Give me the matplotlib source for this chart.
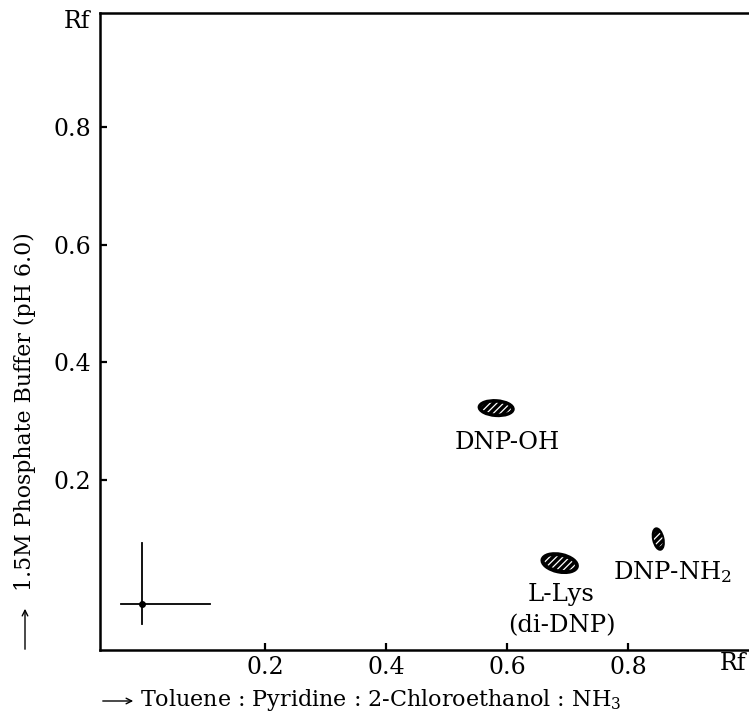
import numpy as np
import matplotlib.pyplot as plt
from matplotlib.patches import Ellipse

plt.rcParams['font.family'] = ['DejaVu Serif', 'DejaVu Sans']
plt.rcParams['mathtext.fontset'] = 'dejavuserif'
plt.rcParams['hatch.linewidth'] = 0.9

# spots (Rf in solvent 1 on x, Rf in solvent 2 on y)
spot_names = ["DNP-OH", "L-Lys\n(di-DNP)", "DNP-NH$_2$"]
spot_x = [0.582, 0.687, 0.850]
spot_y = [0.322, 0.058, 0.099]
spot_w = [0.058, 0.061, 0.017]
spot_h = [0.027, 0.032, 0.037]
spot_angle = [-4, -12, 12]

# origin of the chromatogram
origin = (-0.003, -0.012)

x_ticks = [0.2, 0.4, 0.6, 0.8]
y_ticks = [0.2, 0.4, 0.6, 0.8]

fig = plt.figure(figsize=(7.49, 7.18), dpi=100)
ax = fig.add_axes([100 / 749, 68 / 718, 649 / 749, 637 / 718])
ax.set_xlim(-0.073, 1.0)
ax.set_ylim(-0.09, 0.995)

ax.spines['right'].set_visible(False)
for s in ['left', 'bottom', 'top']:
    ax.spines[s].set_linewidth(1.8)

ax.set_xticks(x_ticks)
ax.set_yticks(y_ticks)
ax.set_xticklabels([f"{v:.1f}" for v in x_ticks])
ax.set_yticklabels([f"{v:.1f}" for v in y_ticks])
ax.tick_params(direction='in', length=5, width=1.6, labelsize=17)
ax.tick_params(axis='x', pad=4)
ax.tick_params(axis='y', pad=6)

# spots: black blob with white stripes
for x, y, w, h, a in zip(spot_x, spot_y, spot_w, spot_h, spot_angle):
    ax.add_patch(Ellipse((x, y), w, h, angle=a, facecolor='black',
                         edgecolor='black', linewidth=1.5))
    ax.add_patch(Ellipse((x, y), w * 0.84, h * 0.68, angle=a, facecolor='none',
                         edgecolor='white', linewidth=0, hatch='/////'))

ax.text(0.600, 0.264, spot_names[0], ha='center', va='center', fontsize=17.5)
ax.text(0.690, -0.022, spot_names[1], ha='center', va='center', fontsize=17.5,
        linespacing=1.45)
ax.text(0.873, 0.043, spot_names[2], ha='center', va='center', fontsize=17.5)

# crosshair at origin
ax.plot([-0.038, 0.109], [origin[1], origin[1]], color='black', lw=1.3)
ax.plot([origin[0], origin[0]], [-0.046, 0.092], color='black', lw=1.3)
ax.plot(*origin, 'o', color='black', ms=4)

# Rf labels
fig.text(90 / 749, 1 - 22 / 718, "Rf", ha='right', va='center', fontsize=17)
fig.text(746 / 749, 1 - 663 / 718, "Rf", ha='right', va='center', fontsize=17)

# axis titles with arrows
fig.text(140 / 749, 1 - 700 / 718,
         "Toluene : Pyridine : 2-Chloroethanol : NH$_3$",
         ha='left', va='center', fontsize=16)
ax.annotate("", xy=(136, 718 - 701), xytext=(100, 718 - 701),
            xycoords='figure pixels', textcoords='figure pixels',
            arrowprops=dict(arrowstyle='->', lw=1.0, color='black'))
fig.text(25 / 749, 1 - 412 / 718, "1.5M Phosphate Buffer (pH 6.0)",
         ha='center', va='center', rotation=90, fontsize=15.8)
ax.annotate("", xy=(25, 718 - 606), xytext=(25, 718 - 652),
            xycoords='figure pixels', textcoords='figure pixels',
            arrowprops=dict(arrowstyle='->', lw=1.0, color='black'))

fig.savefig("out.png", dpi=100)
